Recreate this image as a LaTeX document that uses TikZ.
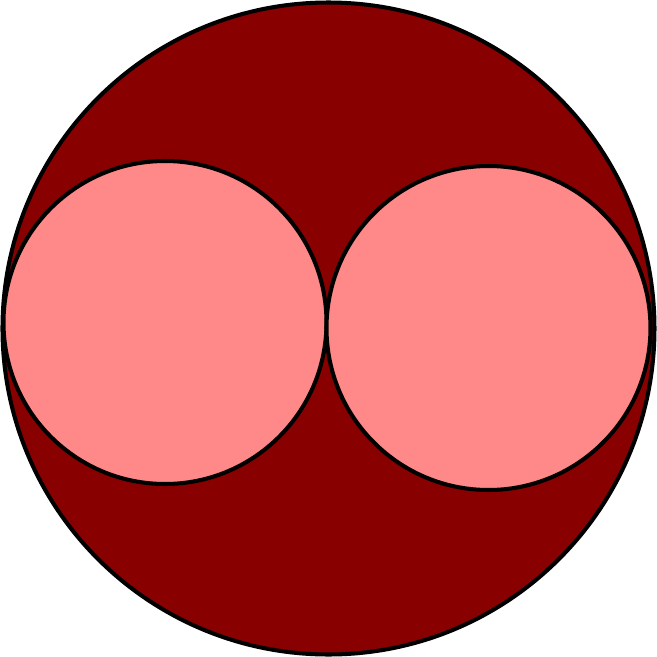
\documentclass[tikz,border=0pt]{standalone}
\definecolor{darkred}{RGB}{136,0,0}
\definecolor{lightred}{RGB}{255,136,136}
\begin{document}
\begin{tikzpicture}[line width=1.15pt]
  \useasboundingbox (0,0) rectangle (6.57,6.57);

  \filldraw[fill=darkred, draw=black] (3.285,3.285) circle (3.26);
  \filldraw[fill=lightred, draw=black] (1.65,3.345) circle (1.615);
  \filldraw[fill=lightred, draw=black] (4.885,3.29) circle (1.62);
\end{tikzpicture}
\end{document}
